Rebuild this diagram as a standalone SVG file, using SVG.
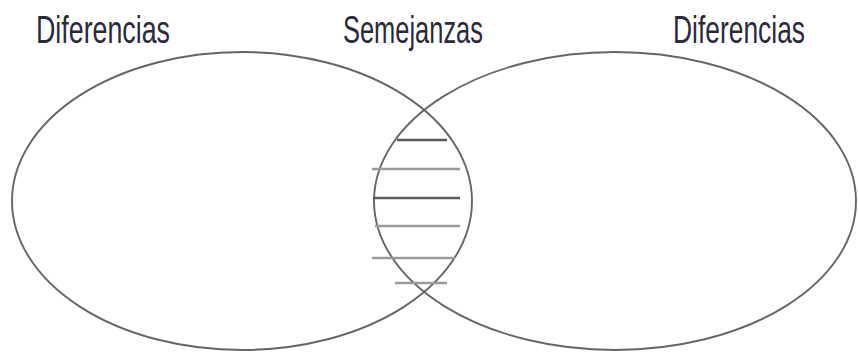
<svg xmlns="http://www.w3.org/2000/svg" width="858" height="354" viewBox="0 0 858 354">
<style>
.bg{fill:#fff}
.circ{fill:none;stroke:#666;stroke-width:1.9}
.lbl{font-family:"Liberation Sans",Arial,sans-serif;font-size:38px;fill:#2a2a3a}
.dk{stroke:#5a5a5a;stroke-width:2.6}
.lt{stroke:#9a9a9a;stroke-width:2.6}
</style>
<rect class="bg" x="0" y="0" width="858" height="354"/>
<g id="left-set">
<ellipse class="circ" cx="242" cy="201" rx="230" ry="149"/>
<text class="lbl" x="0" y="0" transform="translate(36,43) scale(0.7,1)" textLength="191.4" lengthAdjust="spacingAndGlyphs">Diferencias</text>
</g>
<g id="right-set">
<ellipse class="circ" cx="615" cy="201" rx="241" ry="149"/>
<text class="lbl" x="0" y="0" transform="translate(673,43) scale(0.7,1)" textLength="188.6" lengthAdjust="spacingAndGlyphs">Diferencias</text>
</g>
<g id="intersection">
<text class="lbl" x="0" y="0" transform="translate(343,43) scale(0.7,1)" textLength="200" lengthAdjust="spacingAndGlyphs">Semejanzas</text>
<line class="dk" x1="397" y1="140" x2="447" y2="140"/>
<line class="lt" x1="372" y1="169" x2="460" y2="169"/>
<line class="dk" x1="373" y1="198" x2="460" y2="198"/>
<line class="lt" x1="375" y1="226" x2="460" y2="226"/>
<line class="lt" x1="372" y1="258" x2="455" y2="258"/>
<line class="lt" x1="395" y1="283" x2="447" y2="283"/>
</g>
<g id="connectors"></g>
</svg>
